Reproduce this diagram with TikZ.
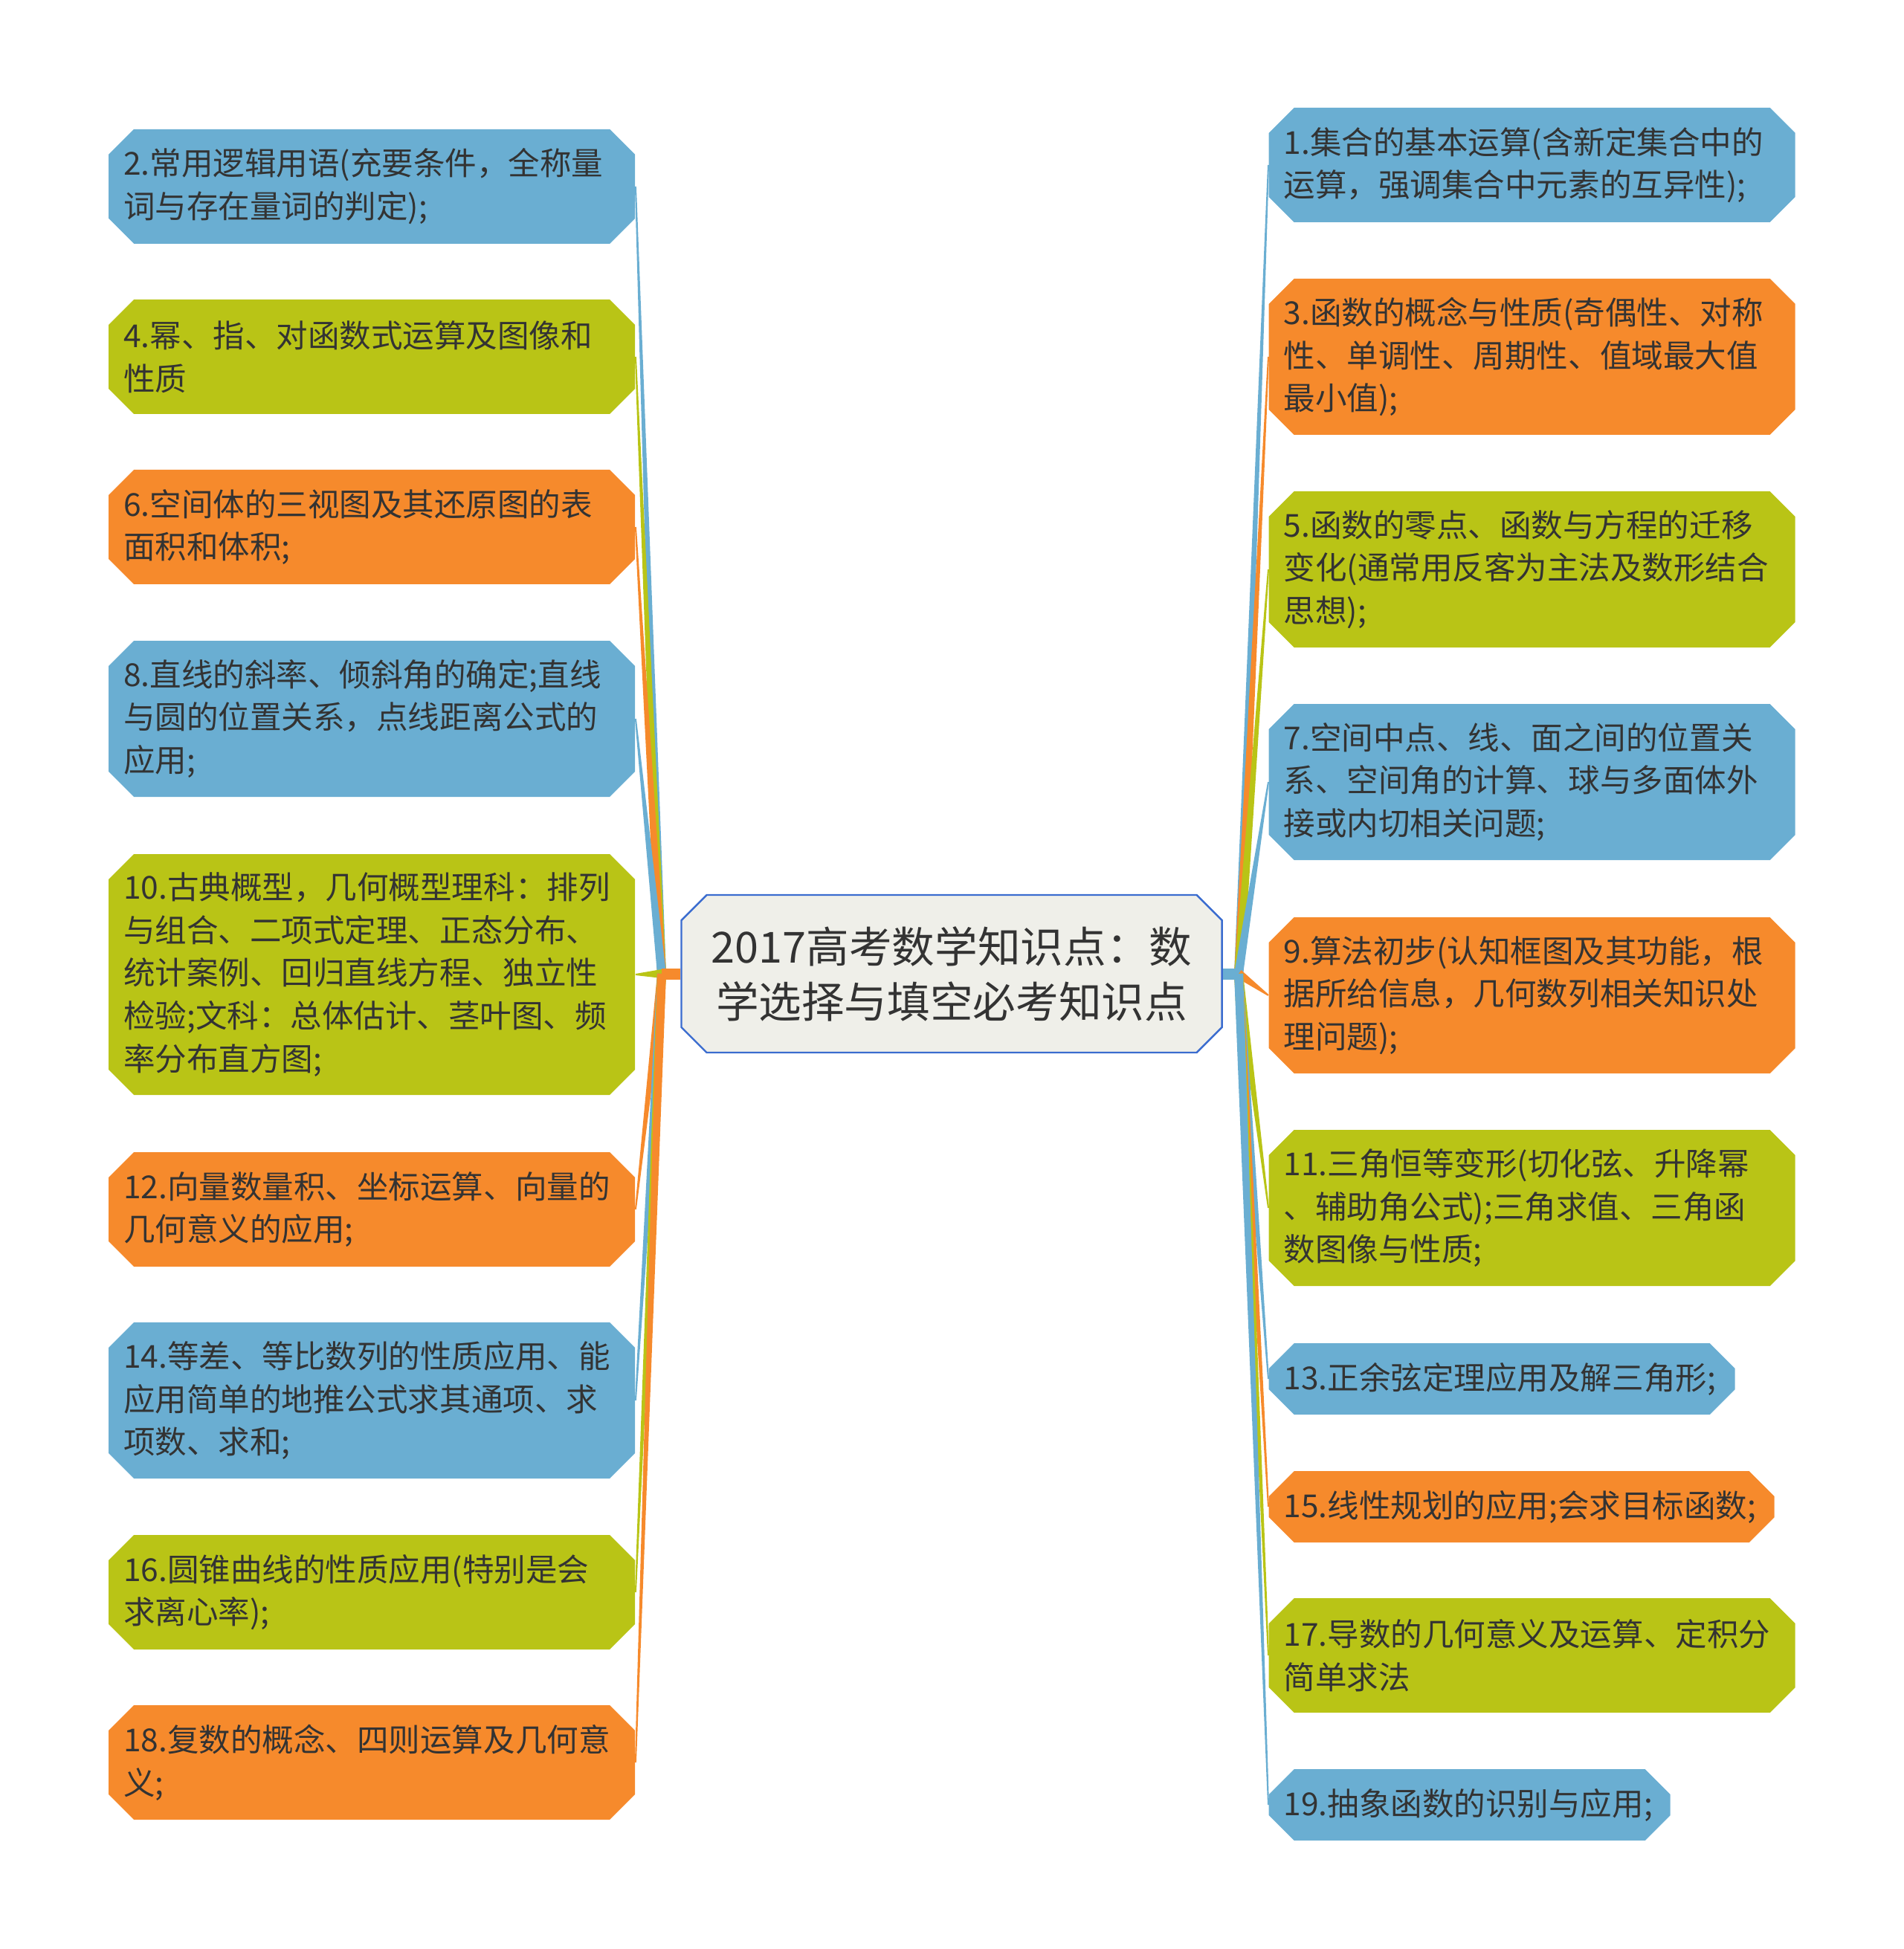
\documentclass[tikz,border=0pt]{standalone}
\usepackage{fontspec}
\setmainfont{Noto Sans CJK SC}
\usetikzlibrary{calc, shapes.misc, backgrounds}

\definecolor{tblue}{HTML}{6AAED2}
\definecolor{tgreen}{HTML}{B9C416}
\definecolor{torange}{HTML}{F68A2C}
\definecolor{tink}{HTML}{333333}
\definecolor{rootfill}{HTML}{EFEFE9}
\definecolor{rootline}{HTML}{3A6CCF}

\tikzset{
    topic/.style={chamfered rectangle, chamfered rectangle xsep=0.17cm,
        chamfered rectangle ysep=0.17cm, inner xsep=0.03cm, inner ysep=0pt,
        anchor=west, align=left, text=tink, text width=6.68cm,
        font=\fontsize{12.1pt}{16.4pt}\selectfont},
    one/.style={minimum height=0.96cm},
    two/.style={minimum height=1.54cm},
    three/.style={minimum height=2.10cm},
    five/.style={minimum height=3.24cm},
    root/.style={chamfered rectangle, chamfered rectangle xsep=0.17cm,
        chamfered rectangle ysep=0.17cm, draw=rootline, line width=0.7pt,
        fill=rootfill, text=tink, align=center, minimum width=7.27cm,
        minimum height=2.12cm, font=\fontsize{16.4pt}{21pt}\selectfont}
}

\begin{document}
\begin{tikzpicture}[y=-1cm]
% Define columns
\def\xl{1.455}
\def\xr{17.06}

\useasboundingbox (0,0) rectangle (25.6,26.22);

% Root
\node[root] (root) at (12.80,13.10) {2017高考数学知识点：数\\学选择与填空必考知识点};
\coordinate (hubL) at (8.90,13.10);
\coordinate (hubR) at (16.66,13.10);

% Left topics
\node[topic, two, fill=tblue] (n2) at (\xl,2.508) {2.常用逻辑用语(充要条件，全称量\\词与存在量词的判定);};
\node[topic, two, fill=tgreen] (n4) at (\xl,4.80) {4.幂、指、对函数式运算及图像和\\性质};
\node[topic, two, fill=torange] (n6) at (\xl,7.09) {6.空间体的三视图及其还原图的表\\面积和体积;};
\node[topic, three, fill=tblue] (n8) at (\xl,9.67) {8.直线的斜率、倾斜角的确定;直线\\与圆的位置关系，点线距离公式的\\应用;};
\node[topic, five, fill=tgreen] (n10) at (\xl,13.11) {10.古典概型，几何概型理科：排列\\与组合、二项式定理、正态分布、\\统计案例、回归直线方程、独立性\\检验;文科：总体估计、茎叶图、频\\率分布直方图;};
\node[topic, two, fill=torange] (n12) at (\xl,16.27) {12.向量数量积、坐标运算、向量的\\几何意义的应用;};
\node[topic, three, fill=tblue] (n14) at (\xl,18.84) {14.等差、等比数列的性质应用、能\\应用简单的地推公式求其通项、求\\项数、求和;};
\node[topic, two, fill=tgreen] (n16) at (\xl,21.42) {16.圆锥曲线的性质应用(特别是会\\求离心率);};
\node[topic, two, fill=torange] (n18) at (\xl,23.71) {18.复数的概念、四则运算及几何意\\义;};

% Right topics
\node[topic, two, fill=tblue] (n1) at (\xr,2.22) {1.集合的基本运算(含新定集合中的\\运算，强调集合中元素的互异性);};
\node[topic, three, fill=torange] (n3) at (\xr,4.80) {3.函数的概念与性质(奇偶性、对称\\性、单调性、周期性、值域最大值\\最小值);};
\node[topic, three, fill=tgreen] (n5) at (\xr,7.66) {5.函数的零点、函数与方程的迁移\\变化(通常用反客为主法及数形结合\\思想);};
\node[topic, three, fill=tblue] (n7) at (\xr,10.52) {7.空间中点、线、面之间的位置关\\系、空间角的计算、球与多面体外\\接或内切相关问题;};
\node[topic, three, fill=torange] (n9) at (\xr,13.39) {9.算法初步(认知框图及其功能，根\\据所给信息，几何数列相关知识处\\理问题);};
\node[topic, three, fill=tgreen] (n11) at (\xr,16.25) {11.三角恒等变形(切化弦、升降幂\\、辅助角公式);三角求值、三角函\\数图像与性质;};
\node[topic, one, fill=tblue, text width=5.87cm] (n13) at (\xr,18.55) {13.正余弦定理应用及解三角形;};
\node[topic, one, fill=torange, text width=6.40cm] (n15) at (\xr,20.27) {15.线性规划的应用;会求目标函数;};
\node[topic, two, fill=tgreen] (n17) at (\xr,22.27) {17.导数的几何意义及运算、定积分\\简单求法};
\node[topic, one, fill=tblue, text width=5.00cm] (n19) at (\xr,24.28) {19.抽象函数的识别与应用;};

% Branches
\begin{scope}[on background layer]
\foreach \n/\c in {n2/tblue, n4/tgreen, n6/torange, n8/tblue, n10/tgreen,
                   n12/torange, n14/tblue, n16/tgreen, n18/torange}
    \fill[\c] ($(hubL)!0.06cm!90:(\n.east)$) -- ($(\n.east)!0.01cm!-90:(hubL)$)
        -- ($(\n.east)!0.01cm!90:(hubL)$) -- ($(hubL)!0.06cm!-90:(\n.east)$) -- cycle;
\foreach \n/\c in {n1/tblue, n3/torange, n5/tgreen, n7/tblue, n9/torange,
                   n11/tgreen, n13/tblue, n15/torange, n17/tgreen, n19/tblue}
    \fill[\c] ($(hubR)!0.06cm!90:(\n.west)$) -- ($(\n.west)!0.01cm!-90:(hubR)$)
        -- ($(\n.west)!0.01cm!90:(hubR)$) -- ($(hubR)!0.06cm!-90:(\n.west)$) -- cycle;
\draw[torange, line width=0.15cm] (root.west) -- (hubL);
\draw[tblue, line width=0.15cm] (root.east) -- (hubR);
\end{scope}
\end{tikzpicture}
\end{document}
